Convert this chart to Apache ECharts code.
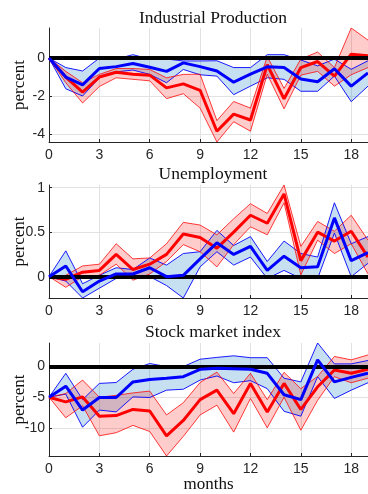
<!DOCTYPE html>
<html>
<head>
<meta charset="utf-8">
<script src="https://cdn.jsdelivr.net/npm/echarts@6/dist/echarts.min.js"></script>
<style>
  html, body { margin: 0; padding: 0; background: #fff; }
  #chart { width: 368px; height: 494px; }
</style>
</head>
<body>
<div id="chart"></div>
<script>
// Horizon in months
const months = [0, 1, 2, 3, 4, 5, 6, 7, 8, 9, 10, 11, 12, 13, 14, 15, 16, 17, 18, 19];
const xTicks = [0, 3, 6, 9, 12, 15, 18];

// Industrial Production (percent)
const ipRed   = [0, -1.0, -1.8, -1.0, -0.75, -0.85, -0.9, -1.57, -1.36, -1.7, -3.86, -2.96, -3.27, -0.35, -2.15, -0.5, -0.18, -0.95, 0.21, 0.12];
const ipRedLo = [0, -1.3, -2.37, -1.5, -1.04, -1.12, -1.2, -2.14, -1.88, -2.64, -4.43, -3.36, -3.86, -0.85, -2.68, -0.9, -0.7, -1.48, -0.88, -0.5];
const ipRedHi = [0, -0.7, -1.3, -0.86, -0.55, -0.55, -0.6, -1.04, -0.86, -0.85, -3.3, -2.29, -2.64, 0.08, -1.6, -0.05, 0.32, -0.5, 1.59, 0.95];
const ipBlue   = [0, -1.0, -1.41, -0.55, -0.45, -0.28, -0.48, -0.7, -0.25, -0.45, -0.68, -1.27, -0.85, -0.46, -0.5, -1.1, -1.25, -0.56, -1.48, -0.78];
const ipBlueLo = [0, -1.62, -2.0, -1.04, -0.73, -0.63, -0.86, -1.3, -0.6, -0.88, -0.95, -1.93, -1.48, -1.04, -1.12, -1.75, -1.75, -0.95, -2.3, -1.48];
const ipBlueHi = [0, -0.5, -0.68, 0, -0.05, 0.18, -0.05, -0.05, -0.15, -0.15, -0.14, -0.5, -0.5, 0.18, 0.18, -0.1, -0.41, -0.05, -0.59, -0.14];
const ipTicks = [-4, -2, 0];

// Unemployment (percent)
const unRed   = [0, -0.03, 0.05, 0.07, 0.25, 0.08, 0.14, 0.25, 0.48, 0.44, 0.32, 0.5, 0.69, 0.6, 0.93, 0.18, 0.5, 0.4, 0.51, 0.22];
const unRedLo = [0, -0.12, 0, 0.015, 0.14, -0.04, 0.03, 0.17, 0.36, 0.28, 0.11, 0.36, 0.56, 0.47, 0.83, 0.02, 0.41, 0.26, 0.37, 0.03];
const unRedHi = [0, 0.015, 0.12, 0.14, 0.37, 0.2, 0.21, 0.37, 0.61, 0.58, 0.47, 0.65, 0.82, 0.71, 1.03, 0.34, 0.62, 0.51, 0.69, 0.41];
const unBlue   = [0, 0.12, -0.17, -0.05, 0.03, 0.03, 0.1, 0, 0.015, 0.2, 0.38, 0.25, 0.34, 0.07, 0.23, 0.1, 0.11, 0.66, 0.18, 0.27];
const unBlueLo = [0, -0.05, -0.24, -0.13, -0.02, -0.015, 0, -0.1, -0.24, 0.11, 0.28, 0.13, 0.22, -0.02, 0.07, -0.02, -0.02, 0.49, 0, 0.15];
const unBlueHi = [0, 0.29, -0.08, 0.015, 0.1, 0.08, 0.21, 0.13, 0.26, 0.28, 0.52, 0.35, 0.45, 0.17, 0.4, 0.26, 0.22, 0.83, 0.37, 0.45];
const unTicks = [0, 0.5, 1];

// Stock market index (percent)
const stRed   = [-5, -5.77, -4.95, -8.1, -8.0, -7.0, -7.25, -11.3, -8.8, -5.4, -3.85, -7.7, -2.75, -7.4, -2.75, -7.0, -3.3, -0.55, -1.1, -0.44];
const stRedLo = [-5, -8.35, -6.4, -11.3, -10.8, -9.6, -10.6, -14.6, -11.4, -7.9, -6.3, -10.7, -5.2, -10.0, -5.0, -10.4, -5.5, -1.65, -2.64, -1.9];
const stRedHi = [-5, -4.4, -2.2, -5.0, -4.7, -4.3, -4.0, -7.9, -5.9, -2.6, -0.9, -4.4, -1.1, -5.4, -0.95, -3.6, -1.6, 1.65, 1.1, 1.9];
const stBlue   = [-5, -3.2, -7.1, -5.05, -5.05, -2.5, -2.1, -1.9, -1.65, -0.44, -0.27, -0.35, -0.44, -1.1, -4.6, -5.4, 1.1, -2.5, -1.76, -1.1];
const stBlueLo = [-5, -4.5, -9.9, -7.1, -7.4, -4.95, -5.05, -3.85, -3.7, -2.2, -1.54, -2.64, -2.3, -3.6, -7.3, -8.1, -1.65, -5.2, -3.85, -2.64];
const stBlueHi = [-5, -1.1, -5.4, -2.75, -2.6, -0.44, 0.5, 0, 0, 1.2, 1.5, 1.76, 1.45, 1.45, -1.9, -2.5, 3.85, 0.44, 0.44, 1.0];
const stTicks = [-10, -5, 0];

const titles = ['Industrial Production', 'Unemployment', 'Stock market index'];

const RED = '#ff0000';
const BLUE = '#0000ff';
const RED_FILL = 'rgba(255, 0, 0, 0.2)';
const BLUE_FILL = 'rgba(0, 114, 189, 0.22)';
const INK = '#262626';
const GRID = '#e2e2e2';
const SERIF = '"Liberation Serif", "DejaVu Serif", serif';
const SANS = '"Liberation Sans", Arial, sans-serif';

const panels = [
  { top: 28,  height: 114, ticks: ipTicks, red: ipRed, redLo: ipRedLo, redHi: ipRedHi, blue: ipBlue, blueLo: ipBlueLo, blueHi: ipBlueHi, titleTop: 4 },
  { top: 185, height: 113, ticks: unTicks, red: unRed, redLo: unRedLo, redHi: unRedHi, blue: unBlue, blueLo: unBlueLo, blueHi: unBlueHi, titleTop: 160 },
  { top: 343, height: 113, ticks: stTicks, red: stRed, redLo: stRedLo, redHi: stRedHi, blue: stBlue, blueLo: stBlueLo, blueHi: stBlueHi, titleTop: 318 }
];

const pairs = arr => months.map((m, k) => [m, arr[k]]);

// Shaded confidence band drawn as one polygon: upper edge forward, lower edge back
function band(idx, lo, hi, fill, z) {
  return {
    type: 'custom',
    xAxisIndex: idx,
    yAxisIndex: idx,
    z: z,
    silent: true,
    data: months.map((m, k) => [m, lo[k], hi[k]]),
    encode: { x: 0, y: [1, 2] },
    renderItem: function (params, api) {
      if (params.dataIndex !== 0) return null;
      const pts = [];
      for (let k = 0; k < months.length; k++) pts.push(api.coord([months[k], hi[k]]));
      for (let k = months.length - 1; k >= 0; k--) pts.push(api.coord([months[k], lo[k]]));
      return { type: 'polygon', shape: { points: pts }, style: { fill: fill } };
    }
  };
}

function line(idx, arr, color, width, z) {
  return {
    type: 'line',
    xAxisIndex: idx,
    yAxisIndex: idx,
    data: pairs(arr),
    symbol: 'none',
    z: z,
    silent: true,
    lineStyle: { color: color, width: width }
  };
}

const grid = [], xAxis = [], yAxis = [], series = [], title = [];

panels.forEach((p, i) => {
  grid.push({ left: 49, right: 0, top: p.top, height: p.height, outerBoundsMode: 'none', containLabel: false });

  title.push({
    text: titles[i],
    left: 208,
    top: p.titleTop,
    textAlign: 'center',
    textStyle: { fontFamily: SERIF, fontSize: 17.5, fontWeight: 'normal', color: '#111' }
  });

  xAxis.push({
    type: 'value',
    gridIndex: i,
    min: 0,
    max: 19,
    name: i === 2 ? 'months' : '',
    nameLocation: 'middle',
    nameGap: 20,
    nameMoveOverlap: false,
    nameTextStyle: { fontFamily: SERIF, fontSize: 17, color: '#111' },
    axisLine: { show: true, onZero: false, lineStyle: { color: INK, width: 1 } },
    axisTick: { show: true, inside: true, length: 3, customValues: xTicks, lineStyle: { color: INK } },
    axisLabel: { customValues: xTicks, margin: 6, color: INK, fontSize: 14, fontFamily: SANS },
    splitLine: { show: true, lineStyle: { color: GRID, width: 1 } }
  });

  const lo = Math.min(...p.redLo, ...p.blueLo);
  const hi = Math.max(...p.redHi, ...p.blueHi);
  yAxis.push({
    type: 'value',
    gridIndex: i,
    min: lo,
    max: hi,
    name: 'percent',
    nameLocation: 'middle',
    nameGap: 21,
    nameRotate: 90,
    nameMoveOverlap: false,
    nameTextStyle: { fontFamily: SERIF, fontSize: 17, color: '#111' },
    axisLine: { show: true, onZero: false, lineStyle: { color: INK, width: 1 } },
    axisTick: { show: true, inside: true, length: 3, customValues: p.ticks, lineStyle: { color: INK } },
    axisLabel: { customValues: p.ticks, margin: 4, color: INK, fontSize: 14, fontFamily: SANS },
    splitLine: { show: true, lineStyle: { color: GRID, width: 1 } }
  });

  series.push(band(i, p.blueLo, p.blueHi, BLUE_FILL, 1));
  series.push(band(i, p.redLo, p.redHi, RED_FILL, 2));
  series.push(line(i, p.blueLo, BLUE, 0.9, 3));
  series.push(line(i, p.blueHi, BLUE, 0.9, 3));
  series.push(line(i, p.redLo, 'rgba(255,0,0,0.85)', 0.9, 3));
  series.push(line(i, p.redHi, 'rgba(255,0,0,0.85)', 0.9, 3));
  series.push(line(i, p.red, RED, 3, 4));
  series.push(line(i, p.blue, BLUE, 3, 5));
  // Zero reference line across the whole panel
  series.push({
    type: 'line',
    xAxisIndex: i,
    yAxisIndex: i,
    data: [],
    z: 6,
    silent: true,
    markLine: {
      silent: true,
      symbol: 'none',
      label: { show: false },
      lineStyle: { color: '#000', width: 4, type: 'solid' },
      data: [{ yAxis: 0 }]
    }
  });
});

const chart = echarts.init(document.getElementById('chart'), null, { renderer: 'canvas' });
chart.setOption({
  animation: false,
  backgroundColor: '#fff',
  title: title,
  grid: grid,
  xAxis: xAxis,
  yAxis: yAxis,
  series: series
});
</script>
</body>
</html>
